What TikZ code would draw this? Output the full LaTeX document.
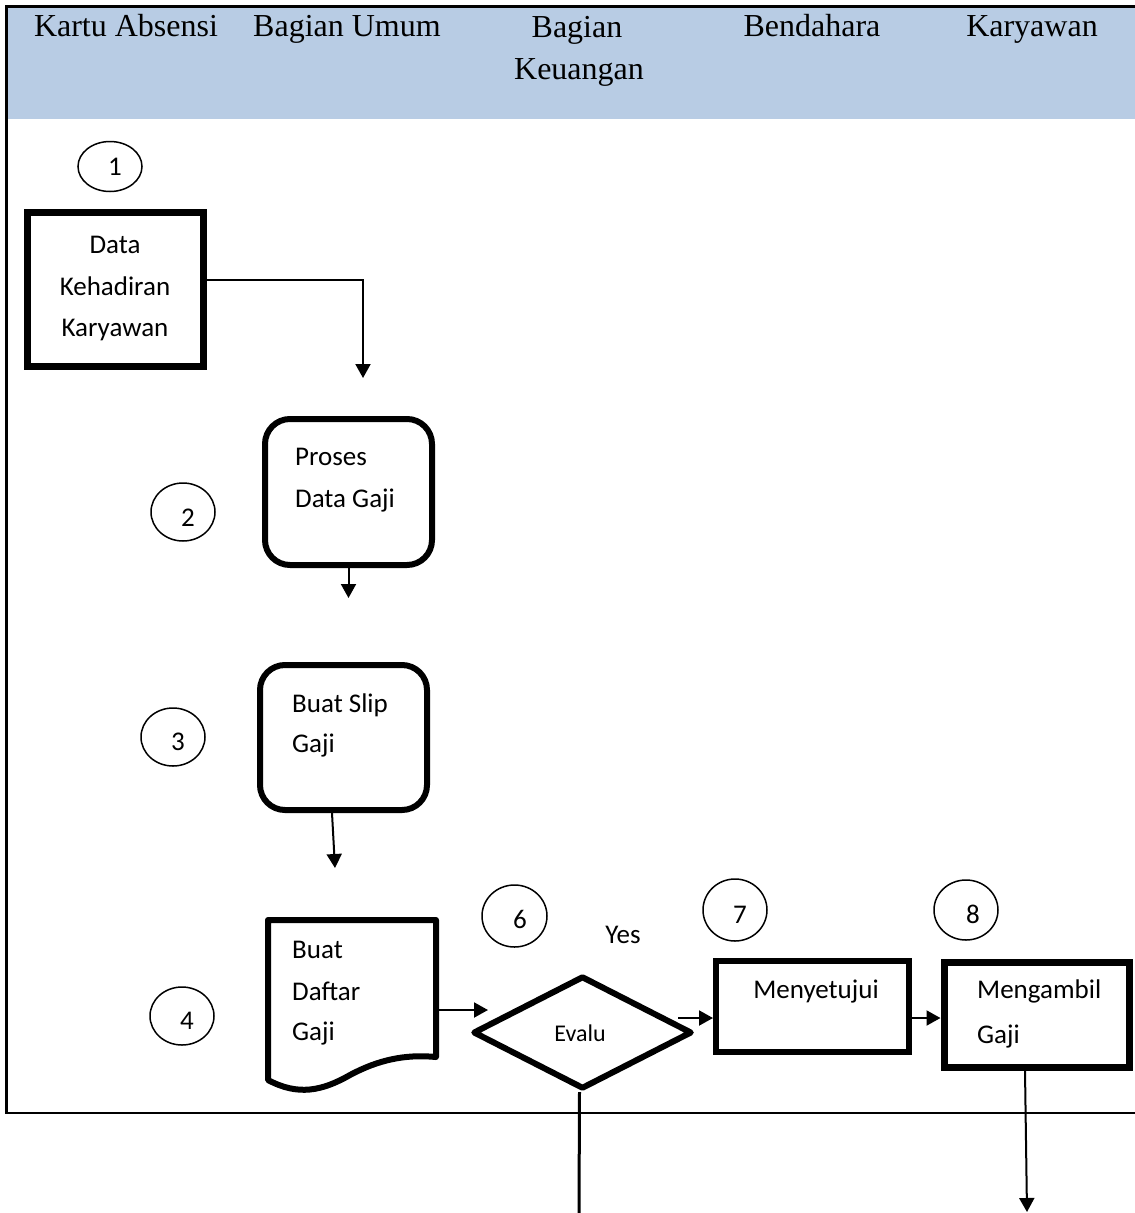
\documentclass[tikz,border=0pt]{standalone}
\usepackage{fontspec}
\setmainfont{Liberation Serif}
\newfontfamily\carlito{Carlito}
\usetikzlibrary{arrows.meta,shapes.geometric,calc}
\definecolor{hdrblue}{HTML}{B8CCE4}
\tikzset{
  hdr/.style={font=\fontsize{32pt}{38pt}\selectfont, inner sep=0pt, anchor=base},
  lbl/.style={font=\carlito\fontsize{27pt}{32pt}\selectfont, inner sep=0pt},
  lblw/.style={lbl, anchor=base west},
  lblc/.style={lbl, anchor=base},
  circ/.style={ellipse, draw, line width=1.5pt, minimum width=64pt, minimum height=58pt, inner sep=0pt},
  boxthick/.style={rectangle, draw, line width=6pt},
  rbox/.style={boxthick, rounded corners=25pt},
  arr/.style={line width=2pt, -{Triangle[width=15pt,length=14pt]}},
}
\begin{document}
\begin{tikzpicture}[x=1pt,y=-1pt]
\useasboundingbox (0,0) rectangle (1135,1213);
% frame and header
\fill[hdrblue] (8,8) rectangle (1135,119);
\draw[line width=3pt] (5,6.5) -- (1135,6.5);
\draw[line width=3pt] (6.5,5) -- (6.5,1113.5);
\draw[line width=2.5pt] (5,1113) -- (1135,1113);
\node[hdr] (h1) at (126,36) {Kartu Absensi};
\node[hdr] (h2) at (347,36) {Bagian Umum};
\node[hdr] (h3a) at (577,37) {Bagian};
\node[hdr] (h3b) at (579,79) {Keuangan};
\node[hdr] (h4) at (812,36) {Bendahara};
\node[hdr] (h5) at (1032,36) {Karyawan};
% numbered circles
\node[circ, minimum height=50pt] (c1) at (110,166.5) {};
\node[lblc] (n1) at (115,175) {1};
\node[circ] (c2) at (183,512) {};
\node[lblc] (n2) at (188,526) {2};
\node[circ] (c3) at (173,737) {};
\node[lblc] (n3) at (178,750) {3};
\node[circ] (c4) at (182,1016) {};
\node[lblc] (n4) at (187,1029) {4};
\node[circ, minimum width=65pt, minimum height=62pt] (c6) at (514.5,916) {};
\node[lblc] (n6) at (520,928) {6};
\node[circ, minimum height=62pt] (c7) at (735,910) {};
\node[lblc] (n7) at (740,923) {7};
\node[circ, minimum height=60pt] (c8) at (966,910) {};
\node[lblc] (n8) at (973,923) {8};
% boxes
\node[boxthick, line width=7pt, minimum width=176pt, minimum height=154pt] (dk) at (115,289) {};
\node[lblc] (t1a) at (115,253) {Data};
\node[lblc] (t1b) at (115,295) {Kehadiran};
\node[lblc] (t1c) at (115,336) {Karyawan};
\node[rbox, minimum width=167pt, minimum height=146pt] (proses) at (348.5,492) {};
\node[lblw] (t2a) at (295,465) {Proses};
\node[lblw] (t2b) at (295,507) {Data Gaji};
\node[rbox, minimum width=167pt, minimum height=145pt] (slip) at (343.5,737.5) {};
\node[lblw] (t3a) at (292,712) {Buat Slip};
\node[lblw] (t3b) at (292,752) {Gaji};
% document shape
\draw[line width=6pt, line join=round] (268,920) -- (436,920) -- (436,1057)
  .. controls (405,1054) and (378,1060) .. (350,1075)
  .. controls (322,1091) and (298,1096) .. (268,1080) -- cycle;
\coordinate (docE) at (439,1010);
\node[lblw] (t4a) at (292,958) {Buat};
\node[lblw] (t4b) at (292,1000) {Daftar};
\node[lblw] (t4c) at (292,1040) {Gaji};
% decision
\node[diamond, draw, line width=6pt, line join=round, minimum width=219pt, minimum height=113pt, inner sep=0pt] (dia) at (582.5,1032.5) {};
\node[lbl, anchor=base, font=\carlito\fontsize{24pt}{28pt}\selectfont] (t6) at (580,1041) {Evalu};
\node[lblc] (yes) at (623,943) {Yes};
\node[boxthick, minimum width=193pt, minimum height=91pt] (meny) at (812.5,1006.5) {};
\node[lblc] (t7) at (816,998) {Menyetujui};
\node[boxthick, line width=7pt, minimum width=185pt, minimum height=105pt] (ambil) at (1036.5,1014.5) {};
\node[lblw] (t8a) at (977,998) {Mengambil};
\node[lblw] (t8b) at (977,1043) {Gaji};
% connectors
\coordinate (a1) at (363,378);
\draw[arr] ($(dk.east)+(0,-9)$) -| (a1);
\coordinate (a2) at (348.5,598);
\draw[arr] (proses.south) -- (a2);
\coordinate (a3) at (335,868);
\draw[arr] ($(slip.south)+(-11.5,0)$) -- (a3);
\coordinate (a4) at (488,1010);
\draw[arr] (docE) -- (a4);
\coordinate (ys) at ($(dia.east)+(-17,-14.5)$);
\draw[arr] (ys) -- (ys -| meny.west);
\coordinate (ms) at ($(meny.east)+(0,11.5)$);
\draw[arr] (ms) -- (ms -| ambil.west);
\coordinate (a8) at (1027,1212);
\draw[arr] ($(ambil.south)+(-11.5,0)$) -- (a8);
\coordinate (a9) at (579,1213);
\draw[line width=3pt] ($(dia.south)+(-3,0)$) -- (a9);
\end{tikzpicture}
\end{document}
